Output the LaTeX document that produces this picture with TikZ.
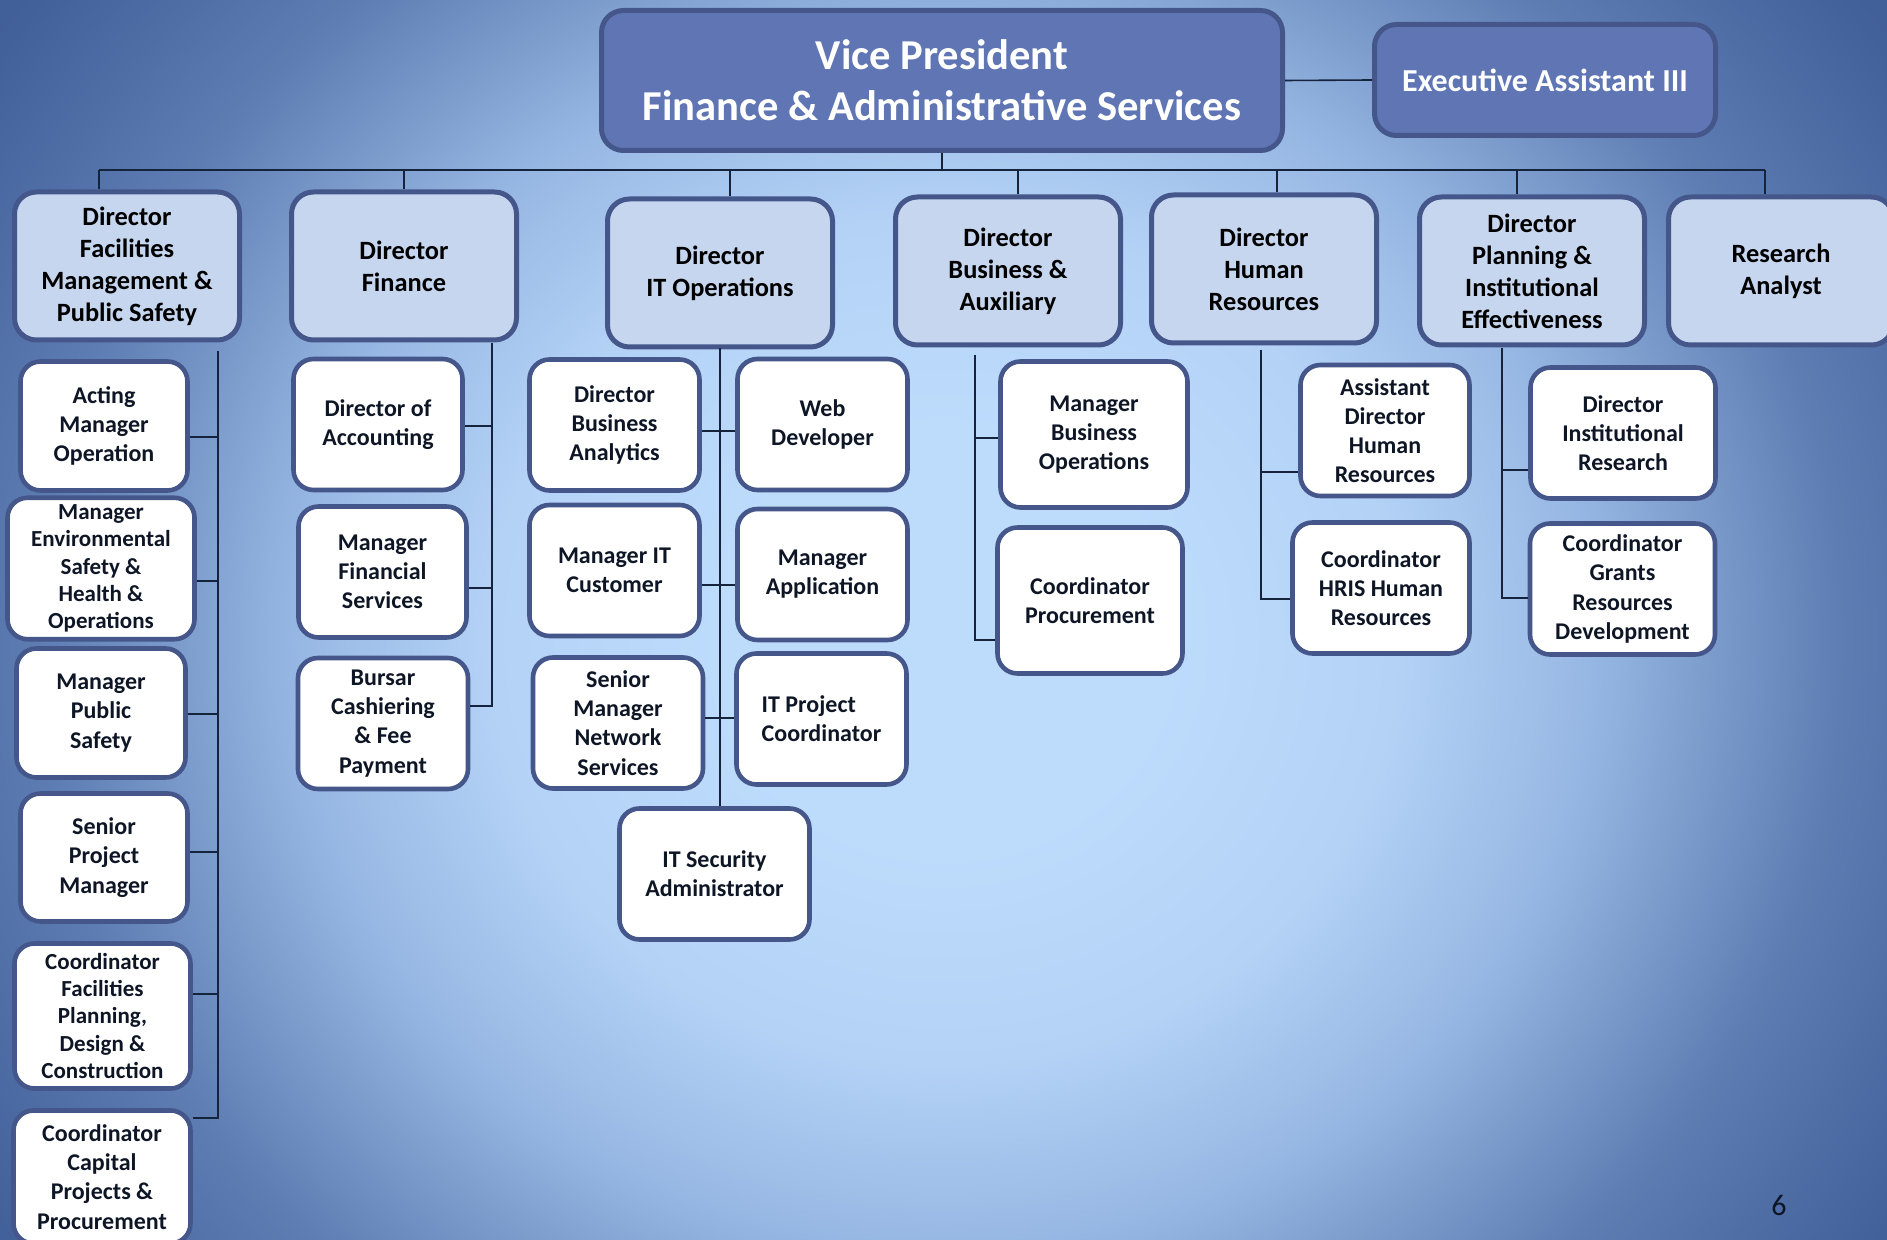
\documentclass[tikz,border=0pt]{standalone}
\usepackage{fontspec}
\setmainfont{Carlito}
\usetikzlibrary{calc}
\definecolor{vpblau}{HTML}{6076B4}
\definecolor{rand}{HTML}{45578A}
\definecolor{leitfill}{HTML}{C6D6EF}
\definecolor{schrift}{HTML}{0E1626}
\definecolor{linienblau}{HTML}{15233D}
\definecolor{bghell}{HTML}{BDDBFB}
\definecolor{bgzwei}{HTML}{B4D2F6}
\definecolor{bgmid}{HTML}{98B8E4}
\definecolor{bgtief}{HTML}{5C7CB2}
\definecolor{bgdunkel}{HTML}{42609A}
\definecolor{bgecke}{HTML}{3A5690}
\pgfdeclareradialshading{hinter}{\pgfpoint{0bp}{0bp}}{color(0bp)=(bghell); color(6bp)=(bghell); color(12bp)=(bgzwei); color(17bp)=(bgmid); color(24bp)=(bgtief); color(30bp)=(bgdunkel); color(36bp)=(bgecke); color(50bp)=(bgecke)}
\tikzset{
  chef/.style={draw=rand,fill=vpblau,line width=2.5pt,rounded corners=11pt,text=white,align=center,font=\bfseries\fontsize{21.3}{25.3}\selectfont},
  dirbox/.style={draw=rand,fill=leitfill,line width=2.5pt,rounded corners=11pt,minimum width=112.5pt,minimum height=74pt,align=center,text=black,font=\bfseries\fontsize{13.2}{16}\selectfont},
  stelle/.style={draw=rand,fill=white,line width=2.3pt,rounded corners=10pt,minimum width=85pt,minimum height=65.5pt,align=center,text=schrift,font=\bfseries\fontsize{12}{14.6}\selectfont},
  eng/.style={font=\bfseries\fontsize{11.5}{13.7}\selectfont},
  linie/.style={linienblau,line width=0.8pt},
}
\begin{document}
\begin{tikzpicture}[x=0.5pt,y=-0.5pt]
  \useasboundingbox (0,0) rectangle (1887,1240);
  \begin{scope}
    \clip (0,0) rectangle (1887,1240);
    \fill[shading=hinter] (0,-242) rectangle (1887,1522);
  \end{scope}

  \node[chef,minimum width=340.5pt,minimum height=70pt] (vp) at (942,80.5) {Vice President\\Finance \& Administrative Services};
  \node[chef,minimum width=170.5pt,minimum height=55.5pt,font=\bfseries\fontsize{16}{19}\selectfont] (ea) at (1545,80) {Executive Assistant III};

  \node[dirbox] (dfac) at (127,266) {Director\\Facilities\\Management \&\\Public Safety};
  \node[dirbox] (dfin) at (404,266) {Director\\Finance};
  \node[dirbox] (dit) at (720,273) {Director\\IT Operations};
  \node[dirbox] (dbus) at (1008,271) {Director\\Business \&\\Auxiliary};
  \node[dirbox] (dhr) at (1264,269) {Director\\Human\\Resources};
  \node[dirbox] (dplan) at (1532,271) {Director\\Planning \&\\Institutional\\Effectiveness};
  \node[dirbox] (dres) at (1781,271) {Research\\Analyst};

  \node[stelle,minimum width=83.5pt,minimum height=64.5pt] (fa1) at (104,426) {Acting\\Manager\\Operation};
  \node[stelle,eng,minimum width=93.5pt,minimum height=64pt] (fa2) at (101,568.5) {Manager\\Environmental\\Safety \&\\Health \&\\Operations};
  \node[stelle,minimum width=84.5pt,minimum height=64.5pt] (fa3) at (101,713) {Manager\\Public\\Safety};
  \node[stelle,minimum width=83.5pt,minimum height=64pt] (fa4) at (104,857.5) {Senior\\Project\\Manager};
  \node[stelle,eng,minimum width=88pt,minimum height=72.5pt] (fa5) at (102.5,1016) {Coordinator\\Facilities\\Planning,\\Design \&\\Construction};
  \node[stelle,minimum width=88.5pt,minimum height=66.5pt] (fa6) at (102,1177) {Coordinator\\Capital\\Projects \&\\Procurement};

  \node[stelle,minimum width=84.5pt] (fi1) at (378,424.5) {Director of\\Accounting};
  \node[stelle,minimum width=84pt] (fi2) at (382.5,572) {Manager\\Financial\\Services};
  \node[stelle] (fi3) at (383,723.5) {Bursar\\Cashiering\\\& Fee\\Payment};

  \node[stelle] (it1) at (614.5,425) {Director\\Business\\Analytics};
  \node[stelle] (it2) at (822.5,424.5) {Web\\Developer};
  \node[stelle] (it3) at (614.5,570.5) {Manager IT\\Customer};
  \node[stelle] (it4) at (822.5,574.5) {Manager\\Application};
  \node[stelle] (it5) at (618,723) {Senior\\Manager\\Network\\Services};
  \node[stelle,align=left] (it6) at (821.5,719) {IT Project\\Coordinator};
  \node[stelle,minimum width=95pt] (it7) at (714.5,874) {IT Security\\Administrator};

  \node[stelle,minimum width=93.5pt,minimum height=73pt] (bu1) at (1094,434.5) {Manager\\Business\\Operations};
  \node[stelle,minimum width=92.5pt,minimum height=73pt] (bu2) at (1090,600.5) {Coordinator\\Procurement};

  \node[stelle,minimum width=84.5pt] (hr1) at (1385,430.5) {Assistant\\Director\\Human\\Resources};
  \node[stelle,minimum width=88.5pt] (hr2) at (1381,588) {Coordinator\\HRIS Human\\Resources};

  \node[stelle,minimum width=92.5pt] (pl1) at (1623,433) {Director\\Institutional\\Research};
  \node[stelle,minimum width=92.5pt] (pl2) at (1622.5,589) {Coordinator\\Grants\\Resources\\Development};

  \node[text=schrift,font=\fontsize{15}{18}\selectfont] (seite) at (1779,1205) {6};

  \coordinate (busl) at (99,170);
  \coordinate (busr) at (1765,170);
  \draw[linie] (busl) -- (busr);
  \draw[linie] (vp.south) -- (vp.south |- busl);
  \draw[linie] (vp.east) -- (ea.west);
  \foreach \d/\sx in {dfac/99,dfin/404,dit/730,dbus/1018,dhr/1277,dplan/1517,dres/1765}
    \draw[linie] (busl -| \sx,0) -- (\d.north -| \sx,0);

  \coordinate (tfac) at (218,351);
  \coordinate (tfin) at (492,343);
  \coordinate (tit) at (720,348);
  \coordinate (tbus) at (975,355);
  \coordinate (thr) at (1261,350);
  \coordinate (tplan) at (1502,348);

  \draw[linie] (tfac) |- (fa6.east |- 0,1118);
  \foreach \k/\ty in {fa1/437,fa2/581,fa3/714,fa4/852,fa5/994}
    \draw[linie] (\k.east |- 0,\ty) -- (tfac |- 0,\ty);
  \draw[linie] (tfin) |- (fi3.east |- 0,706);
  \foreach \k/\ty in {fi1/426,fi2/588}
    \draw[linie] (\k.east |- 0,\ty) -- (tfin |- 0,\ty);
  \draw[linie] (tit) -- (tit |- it7.north);
  \foreach \l/\r/\ty in {it1/it2/431,it3/it4/585,it5/it6/718}
    \draw[linie] (\l.east |- 0,\ty) -- (\r.west |- 0,\ty);
  \draw[linie] (tbus) |- (bu2.west |- 0,640);
  \draw[linie] (tbus |- 0,438) -- (bu1.west |- 0,438);
  \draw[linie] (thr) |- (hr2.west |- 0,599);
  \draw[linie] (thr |- 0,472) -- (hr1.west |- 0,472);
  \draw[linie] (tplan) |- (pl2.west |- 0,598);
  \draw[linie] (tplan |- 0,470) -- (pl1.west |- 0,470);
\end{tikzpicture}
\end{document}
